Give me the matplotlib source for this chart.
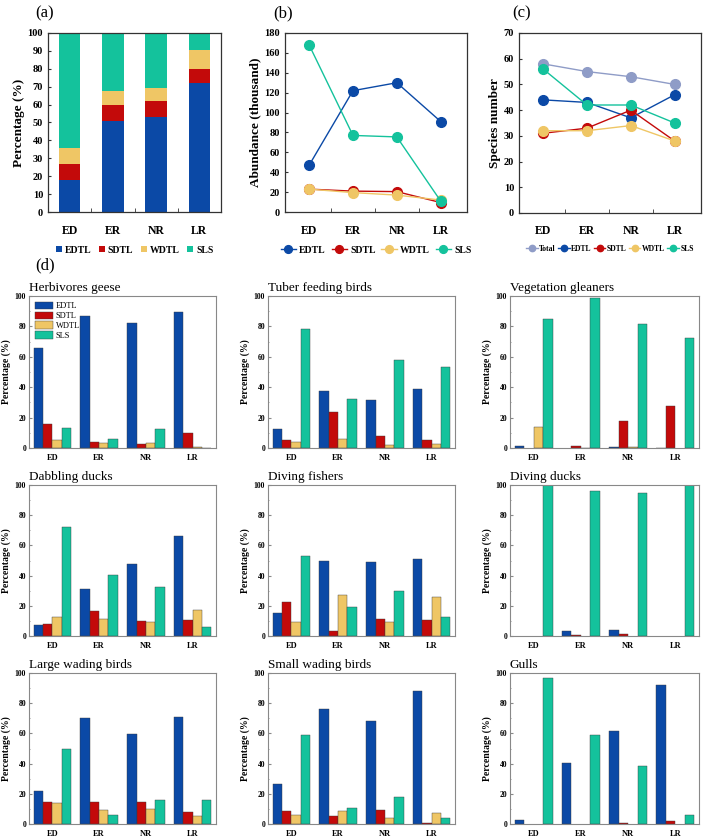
import numpy as np
import matplotlib.pyplot as plt
from matplotlib.ticker import MultipleLocator, FixedLocator

plt.rcParams['font.family'] = ['Liberation Serif', 'DejaVu Serif']

# ---- data ----
cats = ['ED', 'ER', 'NR', 'LR']
groups = ['EDTL', 'SDTL', 'WDTL', 'SLS']

# (a) percentage composition
pct_edtl = [18, 51, 53, 72]
pct_sdtl = [9, 8.5, 9, 8]
pct_wdtl = [9, 8, 7, 10.5]
pct_sls = [64, 32.5, 31, 9.5]

# (b) abundance (thousand)
ab_edtl = [47, 122, 130, 91]
ab_sdtl = [23, 21, 20.5, 9.5]
ab_wdtl = [23, 19.5, 17, 12]
ab_sls = [168, 77, 75.5, 11]

# (c) species number
sp_total = [58, 55, 53, 50]
sp_edtl = [44, 43, 37, 46]
sp_sdtl = [31, 33, 40, 28]
sp_wdtl = [32, 32, 34, 28]
sp_sls = [56, 42, 42, 35]

# (d) guild percentages, rows = EDTL, SDTL, WDTL, SLS ; cols = ED, ER, NR, LR
guild_names = ['Herbivores geese', 'Tuber feeding birds', 'Vegetation gleaners',
               'Dabbling ducks', 'Diving fishers', 'Diving ducks',
               'Large wading birds', 'Small wading birds', 'Gulls']
herbivores_geese = [[66, 87, 82.5, 89.5], [15.6, 4, 2.4, 9.7], [5, 3, 3, 0.7], [13.4, 6, 12.5, 0.3]]
tuber_feeding = [[12.7, 37.6, 31.9, 38.7], [5, 24, 7.9, 5.3], [3.7, 6, 2, 2.6], [78, 32.5, 58.2, 53.6]]
vegetation_gleaners = [[1.3, 0, 0.7, 0.3], [0, 1, 17.7, 27.6], [13.7, 0.3, 0.4, 0], [85, 98.9, 81.5, 72.4]]
dabbling_ducks = [[7, 31.2, 48, 66.2], [8.2, 16.6, 10, 10.4], [12.6, 11.5, 9.3, 17.5], [72.1, 40.3, 32.7, 6]]
diving_fishers = [[15.3, 49.8, 48.9, 50.7], [22.6, 3.3, 11, 10.6], [9.5, 27, 9.5, 25.7], [52.9, 19.5, 30.1, 12.4]]
diving_ducks = [[0, 3.3, 4.2, 0], [0, 0.4, 1.3, 0], [0, 0, 0, 0], [100, 96, 94.5, 100]]
large_wading = [[21.8, 70.3, 59.7, 70.7], [14.8, 14.8, 14.3, 7.9], [13.9, 9, 10.1, 5.5], [49.8, 6, 16.1, 15.9]]
small_wading = [[26.2, 76, 68.5, 88.1], [8.8, 5, 9.5, 0.9], [5.9, 8.4, 4.2, 7], [59, 10.4, 18, 4.2]]
gulls = [[2.6, 40.7, 61.5, 92.3], [0, 0, 0.7, 2], [0, 0, 0, 0], [96.9, 59, 38.1, 5.9]]
guild_data = [herbivores_geese, tuber_feeding, vegetation_gleaners, dabbling_ducks,
              diving_fishers, diving_ducks, large_wading, small_wading, gulls]

colors = ['#0B49A6', '#C30A0A', '#EFC665', '#14C29C']
c_total = '#8F9CC7'

W, H = 709, 838
fig = plt.figure(figsize=(W / 100, H / 100), dpi=100)


def add_ax(l, r, t, b):
    return fig.add_axes([l / W, 1 - b / H, (r - l) / W, (b - t) / H])


x = np.arange(1, 5)


def style_top(ax, ymax, ystep, ylabel):
    ax.set_ylim(0, ymax)
    ax.yaxis.set_major_locator(MultipleLocator(ystep))
    ax.set_xticks(x)
    ax.set_xticklabels(cats, fontsize=8.5, fontweight='bold')
    ax.xaxis.set_minor_locator(FixedLocator([1.5, 2.5, 3.5]))
    ax.tick_params(axis='x', which='major', length=0, pad=9)
    ax.tick_params(axis='x', which='minor', direction='in', length=3, color='#333333')
    ax.tick_params(axis='y', direction='in', length=2, labelsize=7.5, color='#333333')
    for lab in ax.get_yticklabels():
        lab.set_fontweight('bold')
    ax.set_ylabel(ylabel, fontsize=9.5, fontweight='bold', labelpad=2)
    for s in ax.spines.values():
        s.set_color('#333333')
        s.set_linewidth(0.9)


# ---- (a) ----
axa = add_ax(48, 221, 33, 212)
bottom = np.zeros(4)
handles = []
for vals, c, g in zip([pct_edtl, pct_sdtl, pct_wdtl, pct_sls], colors, groups):
    h = axa.bar(x, vals, width=0.5, bottom=bottom, color=c, label=g)
    handles.append(h)
    bottom += np.array(vals)
axa.set_xlim(0.5, 4.5)
style_top(axa, 100, 10, 'Percentage (%)')
axa.legend(handles=handles, loc='upper center', bbox_to_anchor=(0.5, -0.14), ncol=4,
           frameon=False, handlelength=0.6, handleheight=0.6, handletextpad=0.3,
           columnspacing=0.8, prop={'weight': 'bold', 'size': 7})

# ---- (b) ----
axb = add_ax(285, 467, 33, 212)
for vals, c, g in zip([ab_edtl, ab_sdtl, ab_wdtl, ab_sls], colors, groups):
    axb.plot(x, vals, '-o', color=c, lw=1, ms=7, label=g)
axb.set_xlim(0.45, 4.6)
style_top(axb, 180, 20, 'Abundance (thousand)')
axb.legend(loc='upper center', bbox_to_anchor=(0.5, -0.14), ncol=4, frameon=False,
           handlelength=1.6, handletextpad=0.3, columnspacing=0.6, markerscale=0.8,
           prop={'weight': 'bold', 'size': 7})

# ---- (c) ----
axc = add_ax(519, 701, 33, 213)
for vals, c, g in zip([sp_total, sp_edtl, sp_sdtl, sp_wdtl, sp_sls],
                      [c_total] + colors, ['Total'] + groups):
    axc.plot(x, vals, '-o', color=c, lw=1, ms=7, label=g)
axc.set_xlim(0.45, 4.6)
style_top(axc, 70, 10, 'Species number')
axc.legend(loc='upper center', bbox_to_anchor=(0.5, -0.14), ncol=5, frameon=False,
           handlelength=1.5, handletextpad=0.2, columnspacing=0.3, markerscale=0.65,
           prop={'weight': 'bold', 'size': 5.5})

# panel labels
fig.text(45 / W, 1 - 13 / H, '(a)', fontsize=12, ha='center', va='center')
fig.text(283 / W, 1 - 13 / H, '(b)', fontsize=12, ha='center', va='center')
fig.text(522 / W, 1 - 13 / H, '(c)', fontsize=12, ha='center', va='center')
fig.text(45 / W, 1 - 265 / H, '(d)', fontsize=12, ha='center', va='center')

# ---- (d) ----
cols = [(29, 216), (268, 455), (510, 699)]
rows = [(296, 448), (485, 636), (673, 824)]
bw = 0.2
for i, (name, data) in enumerate(zip(guild_names, guild_data)):
    l, r = cols[i % 3]
    t, b = rows[i // 3]
    ax = add_ax(l, r, t, b)
    for j, (vals, c, g) in enumerate(zip(data, colors, groups)):
        lws = [0.3 if v > 0 else 0 for v in vals]
        ax.bar(x + (j - 1.5) * bw, vals, width=bw, color=c, edgecolor='#3a3a3a',
               linewidth=lws, label=g)
    ax.set_xlim(0.5, 4.5)
    ax.set_ylim(0, 100)
    ax.yaxis.set_major_locator(MultipleLocator(20))
    ax.yaxis.set_minor_locator(MultipleLocator(10))
    ax.set_xticks(x)
    ax.set_xticklabels(cats, fontsize=6, fontweight='bold')
    ax.tick_params(axis='x', length=0, pad=4)
    ax.tick_params(axis='y', which='major', direction='in', length=2, labelsize=5.5,
                   color='#888888', pad=2)
    ax.tick_params(axis='y', which='minor', direction='in', length=1, color='#888888')
    for lab in ax.get_yticklabels():
        lab.set_fontweight('bold')
    ax.set_ylabel('Percentage (%)', fontsize=7, fontweight='bold', labelpad=3)
    for s in ax.spines.values():
        s.set_color('#888888')
        s.set_linewidth(0.8)
    ax.text(0.0, 1.01, name, transform=ax.transAxes, fontsize=9.5, ha='left', va='bottom')
    if i == 0:
        leg = ax.legend(loc='upper left', frameon=False, fontsize=6, handlelength=2.2,
                        handleheight=1.0, handletextpad=0.3, labelspacing=0.15,
                        borderaxespad=0.3)
        for p in leg.get_patches():
            p.set_linewidth(0.3)

fig.savefig('out.png', dpi=100)
